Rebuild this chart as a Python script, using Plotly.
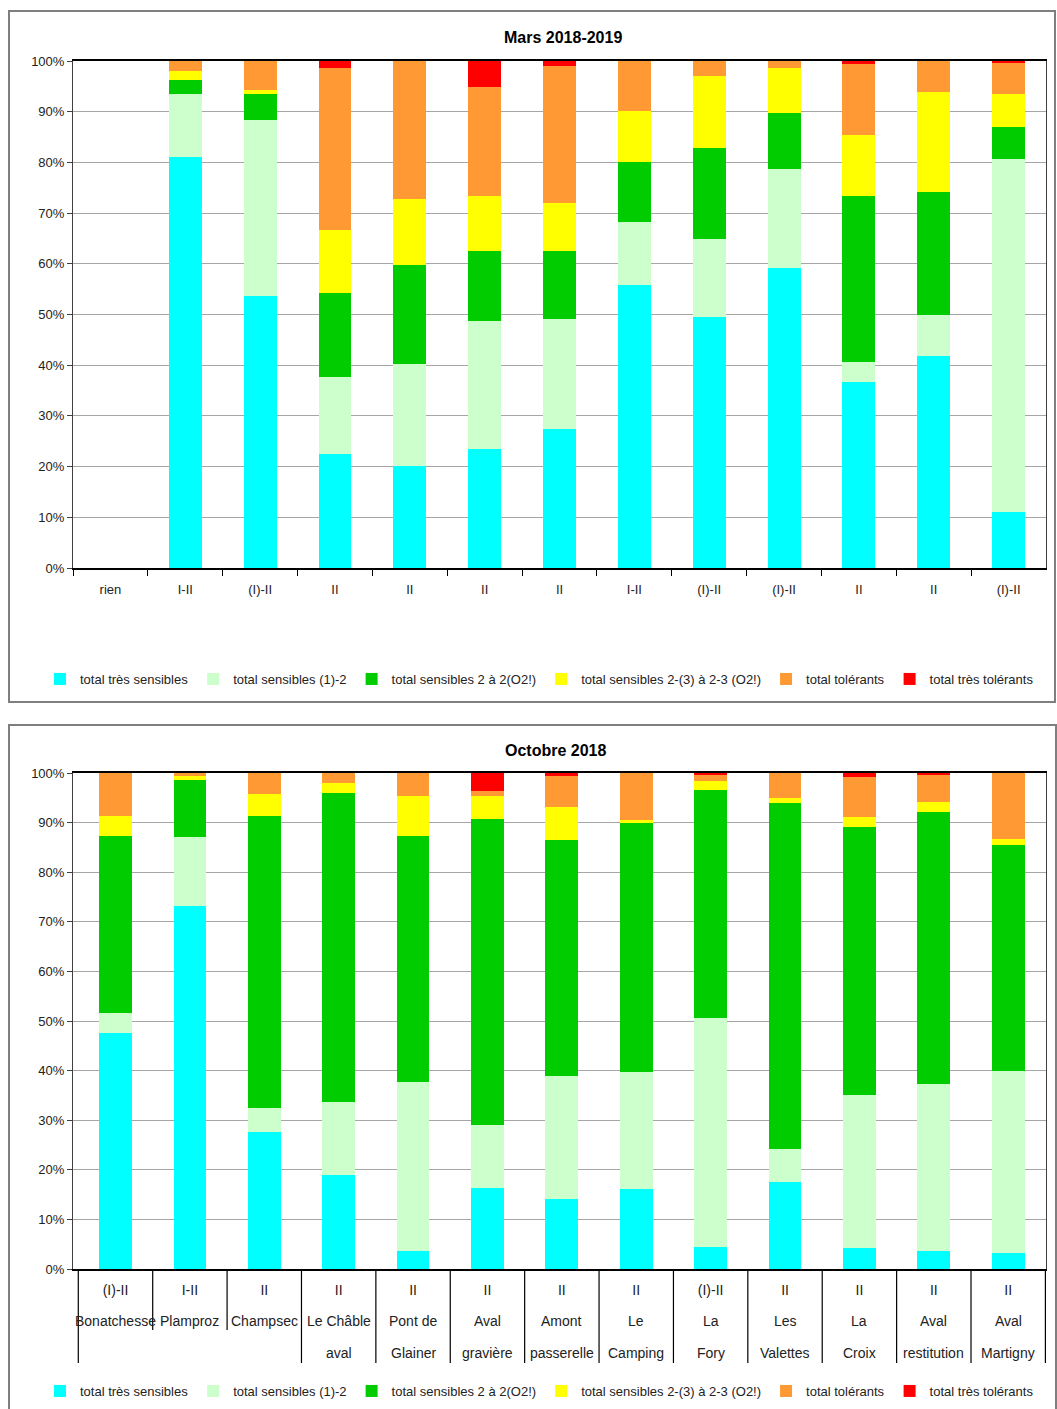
import plotly.graph_objects as go

# ---------------- data ----------------
site_line1 = ["Bonatchesse", "Plamproz", "Champsec", "Le Châble", "Pont de", "Aval", "Amont",
              "Le", "La", "Les", "La", "Aval", "Aval"]
site_line2 = ["", "", "", "aval", "Glainer", "gravière", "passerelle",
              "Camping", "Fory", "Valettes", "Croix", "restitution", "Martigny"]
sites = [(a + " " + b).strip() for a, b in zip(site_line1, site_line2)]

classes_mars = ["rien", "I-II", "(I)-II", "II", "II", "II", "II", "I-II", "(I)-II", "(I)-II", "II", "II", "(I)-II"]
classes_oct = ["(I)-II", "I-II", "II", "II", "II", "II", "II", "II", "(I)-II", "II", "II", "II", "II"]

series_names = ["total très sensibles", "total sensibles (1)-2", "total sensibles 2 à 2(O2!)",
                "total sensibles 2-(3) à 2-3 (O2!)", "total tolérants", "total très tolérants"]

# Mars 2018-2019 (% of each category)
mars_tres_sensibles = [0, 81.0, 53.6, 22.4, 20.2, 23.5, 27.4, 55.9, 49.6, 59.2, 36.6, 41.9, 11.0]
mars_sensibles_1_2 = [0, 12.4, 34.8, 15.3, 20.1, 25.3, 21.7, 12.4, 15.2, 19.5, 4.0, 8.0, 69.6]
mars_sensibles_2 = [0, 2.9, 5.0, 16.6, 19.4, 13.8, 13.5, 11.7, 18.1, 11.0, 32.7, 24.3, 6.3]
mars_sensibles_2_3 = [0, 1.7, 0.9, 12.4, 13.1, 10.7, 9.3, 10.2, 14.1, 8.9, 12.1, 19.6, 6.6]
mars_tolerants = [0, 2.0, 5.7, 31.9, 27.2, 21.5, 27.1, 9.8, 3.0, 1.4, 14.0, 6.2, 6.2]
mars_tres_tolerants = [0, 0, 0, 1.4, 0, 5.2, 1.0, 0, 0, 0, 0.6, 0, 0.3]

# Octobre 2018
oct_tres_sensibles = [47.6, 73.1, 27.7, 18.9, 3.6, 16.3, 14.2, 16.2, 4.4, 17.6, 4.2, 3.6, 3.2]
oct_sensibles_1_2 = [4.1, 13.9, 4.7, 14.8, 34.1, 12.8, 24.8, 23.6, 46.3, 6.5, 30.9, 33.6, 36.8]
oct_sensibles_2 = [35.5, 11.5, 58.9, 62.3, 49.5, 61.7, 47.4, 50.1, 45.8, 69.9, 54.1, 54.9, 45.5]
oct_sensibles_2_3 = [4.1, 0.8, 4.5, 2.0, 8.2, 4.5, 6.7, 0.7, 1.8, 1.0, 1.9, 2.0, 1.2]
oct_tolerants = [8.7, 0.7, 4.2, 2.0, 4.6, 1.0, 6.2, 9.4, 1.3, 5.0, 8.1, 5.5, 13.3]
oct_tres_tolerants = [0, 0, 0, 0, 0, 3.7, 0.7, 0, 0.4, 0, 0.8, 0.4, 0]

mars_series = [mars_tres_sensibles, mars_sensibles_1_2, mars_sensibles_2,
               mars_sensibles_2_3, mars_tolerants, mars_tres_tolerants]
oct_series = [oct_tres_sensibles, oct_sensibles_1_2, oct_sensibles_2,
              oct_sensibles_2_3, oct_tolerants, oct_tres_tolerants]

colors = ["#00FFFF", "#CCFFCC", "#00CC00", "#FFFF00", "#FF9933", "#FF0000"]

# ---------------- layout helpers ----------------
W, H = 1057, 1409
FONT = "Liberation Sans, Arial, sans-serif"


def px(x):
    return x / W


def py(y):
    return 1 - y / H


fig = go.Figure()
for name, vals, col in zip(series_names, mars_series, colors):
    fig.add_trace(go.Bar(x=sites, y=vals, name=name, marker=dict(color=col, line=dict(width=0)),
                         xaxis="x", yaxis="y", legend="legend"))
for name, vals, col in zip(series_names, oct_series, colors):
    fig.add_trace(go.Bar(x=sites, y=vals, name=name, marker=dict(color=col, line=dict(width=0)),
                         xaxis="x2", yaxis="y2", legend="legend2"))

axis_font = dict(family=FONT, size=13, color="#222222")
common_y = dict(range=[0, 100], dtick=10, ticksuffix="%", showgrid=True, gridcolor="#A6A6A6",
                gridwidth=1, zeroline=False, showline=True, linecolor="#404040", linewidth=1,
                mirror=True, ticks="outside", ticklen=5, tickcolor="#404040",
                tickfont=axis_font, fixedrange=True, automargin=False)

fig.update_layout(
    width=W, height=H,
    margin=dict(l=0, r=0, t=0, b=0, pad=0, autoexpand=False),
    paper_bgcolor="white", plot_bgcolor="white",
    barmode="stack", bargap=0.56,
    font=dict(family=FONT, size=13, color="#222222"),
    xaxis=dict(domain=[px(73), px(1046)], anchor="y", type="category",
               categoryorder="array", categoryarray=sites,
               tickmode="array", tickvals=sites, ticktext=classes_mars,
               ticks="outside", tickson="boundaries", ticklen=6, tickcolor="black",
               showline=True, linecolor="black", linewidth=1.5, mirror=True,
               showgrid=False, tickfont=axis_font, ticklabelstandoff=9, automargin=False),
    yaxis=dict(domain=[py(568), py(61)], anchor="x", **common_y),
    xaxis2=dict(domain=[px(73), px(1046)], anchor="y2", type="category",
                categoryorder="array", categoryarray=sites,
                tickmode="array", tickvals=sites, ticktext=classes_oct,
                ticks="", showline=True, linecolor="black", linewidth=1.5, mirror=True,
                showgrid=False, tickfont=dict(family=FONT, size=14, color="#222222"),
                ticklabelstandoff=7, automargin=False),
    yaxis2=dict(domain=[py(1269), py(773)], anchor="x2", **common_y),
    legend=dict(orientation="h", x=px(40), xanchor="left", y=py(679), yanchor="middle",
                traceorder="normal", font=dict(family=FONT, size=13, color="#222222"),
                bgcolor="rgba(0,0,0,0)", itemclick=False),
    legend2=dict(orientation="h", x=px(40), xanchor="left", y=py(1391), yanchor="middle",
                 traceorder="normal", font=dict(family=FONT, size=13, color="#222222"),
                 bgcolor="rgba(0,0,0,0)", itemclick=False),
    showlegend=True,
)

annotations = [
    dict(text="<b>Mars 2018-2019</b>", x=px(563), y=py(37), xref="paper", yref="paper",
         xanchor="center", yanchor="middle", showarrow=False,
         font=dict(family=FONT, size=16, color="black")),
    dict(text="<b>Octobre 2018</b>", x=px(555), y=py(750), xref="paper", yref="paper",
         xanchor="center", yanchor="middle", showarrow=False,
         font=dict(family=FONT, size=16, color="black")),
]
for s, l1, l2 in zip(sites, site_line1, site_line2):
    annotations.append(dict(text=l1, x=s, y=py(1321), xref="x2", yref="paper", showarrow=False,
                            xanchor="center", yanchor="middle",
                            font=dict(family=FONT, size=14, color="#222222")))
    if l2:
        annotations.append(dict(text=l2, x=s, y=py(1353), xref="x2", yref="paper", showarrow=False,
                                xanchor="center", yanchor="middle",
                                font=dict(family=FONT, size=14, color="#222222")))

shapes = [
    dict(type="rect", xref="paper", yref="paper", x0=px(9), x1=px(1055), y0=py(702), y1=py(11),
         line=dict(color="#7F7F7F", width=2), fillcolor="rgba(0,0,0,0)", layer="below"),
    dict(type="rect", xref="paper", yref="paper", x0=px(9), x1=px(1056), y0=-0.01, y1=py(725),
         line=dict(color="#7F7F7F", width=2), fillcolor="rgba(0,0,0,0)", layer="below"),
]
n = len(sites)
for i in range(n + 1):
    left_two = i - 1 >= 0 and site_line2[i - 1] != ""
    right_two = i < n and site_line2[i] != ""
    full = i == 0 or i == n or left_two or right_two
    bottom = 1363 if full else 1330
    shapes.append(dict(type="line", xref="x2", yref="paper", x0=i - 0.5, x1=i - 0.5,
                       y0=py(1269), y1=py(bottom), line=dict(color="black", width=1.2)))

fig.update_layout(annotations=annotations, shapes=shapes)

fig.write_html("out.html", config={"displayModeBar": False},
               post_script="document.body.style.margin='0';")
